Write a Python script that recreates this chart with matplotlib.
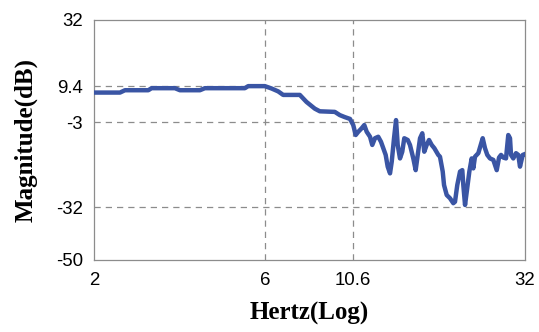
import matplotlib
matplotlib.use("Agg")
import matplotlib.pyplot as plt
import numpy as np

line_color = "#3a55a4"
grid_color = "#8c8c8c"

# magnitude response traced along a log-frequency axis
freq_hz = [
    2.00, 2.364, 2.441, 2.836, 2.897, 3.366, 3.476, 3.953, 4.082, 5.279,
    5.393, 6.003, 6.266, 6.541, 6.754, 7.518, 7.847, 8.279, 8.550, 9.415,
    9.723, 10.05, 10.38, 10.60, 10.77, 10.95, 11.19, 11.38, 11.56, 11.81,
    11.98, 12.19, 12.45, 12.67, 12.86, 13.06, 13.23, 13.43, 13.58, 13.78,
    13.96, 14.11, 14.32, 14.53, 14.72, 15.05, 15.27, 15.60, 15.84, 16.05,
    16.29, 16.53, 16.74, 17.00, 17.26, 17.56, 17.86, 18.32, 18.52, 18.85,
    19.01, 19.34, 19.75, 20.18, 20.40, 20.70, 21.07, 21.38, 21.52, 21.76,
    22.00, 22.37, 22.71, 22.95, 23.20, 23.70, 24.07, 24.38, 24.74, 25.11,
    25.55, 26.10, 26.68, 27.08, 27.43, 27.83, 28.32, 28.74, 29.06, 29.25,
    29.68, 30.20, 30.65, 30.99, 31.54, 32.00,
]
magnitude_db = [
    7.2, 7.2, 8.0, 8.0, 8.7, 8.7, 8.0, 8.0, 8.7, 8.7,
    9.4, 9.4, 8.6, 7.6, 6.4, 6.4, 4.0, 1.7, 0.8, 0.6,
    -0.5, -1.2, -1.8, -3.9, -7.3, -6.2, -5.0, -3.9, -6.2, -7.9,
    -10.7, -8.4, -7.9, -9.6, -11.8, -14.1, -18.1, -20.4, -16.4, -8.4,
    -2.2, -10.7, -15.3, -13.0, -8.4, -9.0, -10.7, -15.3, -19.3, -14.1,
    -8.4, -6.7, -13.0, -10.7, -9.0, -10.7, -11.8, -14.1, -14.7, -19.8,
    -24.4, -27.8, -28.9, -30.6, -30.1, -24.4, -19.8, -19.3, -24.4, -31.2,
    -26.7, -19.8, -15.3, -18.7, -14.7, -13.5, -10.7, -8.4, -11.8, -14.1,
    -15.3, -15.8, -19.3, -15.0, -14.1, -15.0, -15.3, -7.3, -8.4, -14.1,
    -15.3, -13.5, -14.1, -18.1, -14.1, -13.8,
]

x_ticks = [2, 6, 10.6, 32]
x_tick_labels = ["2", "6", "10.6", "32"]
y_ticks = [-50, -32, -3, 9.4, 32]
y_tick_labels = ["-50", "-32", "-3", "9.4", "32"]
x_grid = [6, 10.6]
y_grid = [-32, -3, 9.4]

fig = plt.figure(figsize=(5.39, 3.32), dpi=100)
ax = fig.add_axes([0.1744, 0.2169, 0.7996, 0.7229])

for xv in x_grid:
    ax.axvline(xv, color=grid_color, lw=0.9, ls=(0, (5, 4)), zorder=1)
for yv in y_grid:
    ax.axhline(yv, color=grid_color, lw=0.9, ls=(0, (5, 4)), zorder=1)

ax.plot(freq_hz, magnitude_db, color=line_color, lw=3.2,
        solid_joinstyle="round", zorder=3)

ax.set_xscale("log")
ax.set_xlim(2, 32)
ax.set_ylim(-50, 32)
ax.set_xticks(x_ticks)
ax.set_xticklabels(x_tick_labels)
ax.xaxis.set_minor_locator(matplotlib.ticker.NullLocator())
ax.set_yticks(y_ticks)
ax.set_yticklabels(y_tick_labels)

for lbl in ax.get_xticklabels() + ax.get_yticklabels():
    lbl.set_fontfamily("Liberation Sans")
    lbl.set_fontsize(13.4)
ax.tick_params(axis="x", length=0, pad=9)
ax.tick_params(axis="y", length=0, pad=8)

for spine in ax.spines.values():
    spine.set_color(grid_color)
    spine.set_linewidth(0.9)

label_font = {"family": "Liberation Serif", "weight": "bold", "size": 18}
ax.set_xlabel("Hertz(Log)", fontdict=label_font, labelpad=9)
ax.set_ylabel("Magnitude(dB)", fontdict=label_font, labelpad=13)

fig.savefig("out.png", dpi=100)
plt.close("all")
